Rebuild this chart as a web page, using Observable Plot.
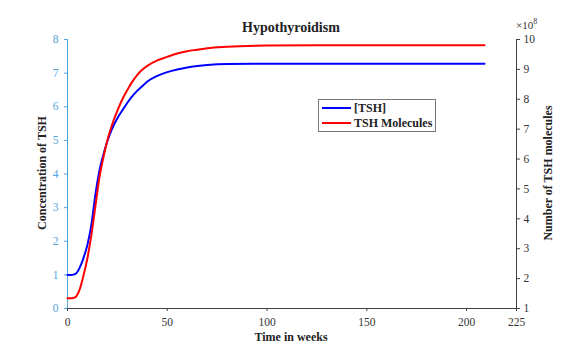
<!DOCTYPE html>
<html>
<head>
<meta charset="utf-8">
<script src="https://cdn.jsdelivr.net/npm/d3@7"></script>
<script src="https://cdn.jsdelivr.net/npm/@observablehq/plot@0.6"></script>
<style>
  html, body { margin: 0; padding: 0; background: #fff; }
  #chart { width: 572px; height: 351px; }
  #chart svg text { font-family: "Liberation Serif", "Times New Roman", serif !important; }
</style>
</head>
<body>
<div id="chart"></div>
<script>
// ---- data ----
const weeks = [0, 2, 4, 6, 8, 10, 12, 14, 16, 18, 20, 22, 25, 28, 30, 32, 35, 38, 40, 45, 50, 55, 60, 65, 70, 80, 100, 125, 150, 175, 209];
// [TSH] concentration (left axis)
const tshConc = [1.0, 1.0, 1.03, 1.2, 1.5, 1.9, 2.5, 3.4, 4.1, 4.58, 4.98, 5.3, 5.66, 5.94, 6.12, 6.28, 6.48, 6.64, 6.75, 6.92, 7.03, 7.11, 7.17, 7.21, 7.24, 7.27, 7.28, 7.28, 7.28, 7.28, 7.28];
// Number of TSH molecules (right axis)
const tshMolecules = [1.34e8, 1.34e8, 1.38e8, 1.62e8, 2.10e8, 2.69e8, 3.48e8, 4.43e8, 5.39e8, 6.06e8, 6.63e8, 7.08e8, 7.62e8, 8.07e8, 8.31e8, 8.54e8, 8.82e8, 9.02e8, 9.12e8, 9.30e8, 9.42e8, 9.53e8, 9.61e8, 9.66e8, 9.71e8, 9.76e8, 9.80e8, 9.81e8, 9.81e8, 9.81e8, 9.81e8];

const xTicks = [0, 50, 100, 150, 200, 225];
const leftTicks = [0, 1, 2, 3, 4, 5, 6, 7, 8];
const rightTicks = [1, 2, 3, 4, 5, 6, 7, 8, 9, 10]; // x 10^8

const title = "Hypothyroidism";
const xLabel = "Time in weeks";
const leftLabel = "Concentration of TSH";
const rightLabel = "Number of TSH molecules";
const seriesNames = ["[TSH]", "TSH Molecules"];

// ---- mapping of right axis onto the left scale ----
const leftDomain = [0, 8];
const rightDomain = [1, 10]; // x 10^8
const toLeft = r => (r - rightDomain[0]) * (leftDomain[1] - leftDomain[0]) / (rightDomain[1] - rightDomain[0]) + leftDomain[0];
const toRight = l => (l - leftDomain[0]) * (rightDomain[1] - rightDomain[0]) / (leftDomain[1] - leftDomain[0]) + rightDomain[0];

const blueData = weeks.map((t, i) => ({t, v: tshConc[i]}));
const redData = weeks.map((t, i) => ({t, v: toLeft(tshMolecules[i] / 1e8)}));

const BLUE_AX = "#4fa3dc";
const GRAY_AX = "#404040";
const FONT = "'Liberation Serif', 'Times New Roman', serif";

const chart = Plot.plot({
  width: 572,
  height: 351,
  marginLeft: 67,
  marginRight: 56,
  marginTop: 39,
  marginBottom: 43,
  style: {fontFamily: FONT, fontSize: "11px", background: "#fff", overflow: "visible"},
  x: {domain: [0, 225]},
  y: {domain: leftDomain},
  marks: [
    Plot.axisX({ticks: xTicks, tickSize: 3, tickPadding: 6, stroke: GRAY_AX, fill: "#333", label: null}),
    Plot.axisY({anchor: "left", ticks: leftTicks, tickSize: 3, tickPadding: 6, stroke: BLUE_AX, fill: BLUE_AX, label: null}),
    Plot.axisY({anchor: "right", ticks: rightTicks.map(toLeft), tickFormat: d => String(Math.round(toRight(d))), tickSize: 3, tickPadding: 4, stroke: GRAY_AX, fill: "#333", label: null}),
    Plot.ruleY([0], {stroke: GRAY_AX}),
    Plot.ruleX([0], {stroke: BLUE_AX}),
    Plot.ruleX([225], {stroke: GRAY_AX}),
    Plot.line(blueData, {x: "t", y: "v", stroke: "#0000ff", strokeWidth: 2, curve: "monotone-x"}),
    Plot.line(redData, {x: "t", y: "v", stroke: "#ff0000", strokeWidth: 2, curve: "monotone-x"})
  ]
});

document.getElementById("chart").appendChild(chart);

const svg = d3.select(chart);
svg.selectAll("text").style("font-size", "11.5px");
function addText(txt, x, y, size, anchor, opts = {}) {
  const t = svg.append("text").attr("x", x).attr("y", y).text(txt)
    .style("font-size", size + "px").style("font-weight", "bold")
    .style("text-anchor", anchor).style("fill", "#222");
  Object.entries(opts).forEach(([k, v]) => t.attr(k, v));
  return t;
}
addText(title, 291, 32, 14, "middle", {});
addText(xLabel, 291, 341, 12, "middle", {});
addText(leftLabel, 0, 0, 12, "middle", {"transform": "translate(46,173) rotate(-90)"});
addText(rightLabel, 0, 0, 12, "middle", {"transform": "translate(552,173) rotate(-90)"});

// x 10^8 exponent
const ex = svg.append("text").attr("x", 516).attr("y", 29)
  .style("font-size", "11px").style("text-anchor", "start").style("fill", "#333");
ex.append("tspan").text("\u00d710");
ex.append("tspan").attr("dy", -5).style("font-size", "8px").text("8");

// legend
const lg = svg.append("g");
lg.append("rect").attr("x", 318.5).attr("y", 99.5).attr("width", 117).attr("height", 32)
  .attr("fill", "#fff").attr("stroke", "#777").attr("stroke-width", 1);
const legendColors = ["#0000ff", "#ff0000"];
seriesNames.forEach((name, i) => {
  const y = 108 + i * 15;
  lg.append("line").attr("x1", 322).attr("x2", 351).attr("y1", y).attr("y2", y)
    .attr("stroke", legendColors[i]).attr("stroke-width", 2);
  lg.append("text").attr("x", 354).attr("y", y + 4).text(name)
    .style("font-size", "12px").style("font-weight", "bold")
    .style("text-anchor", "start").style("fill", "#222");
});
</script>
</body>
</html>
